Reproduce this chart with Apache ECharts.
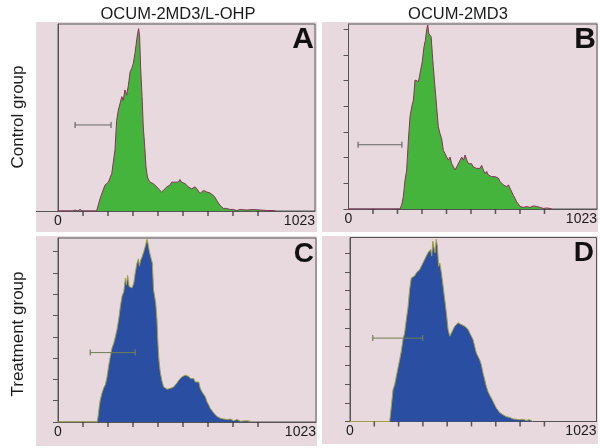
<!DOCTYPE html>
<html>
<head>
<meta charset="utf-8">
<script src="https://cdn.jsdelivr.net/npm/echarts@6/dist/echarts.min.js"></script>
<style>html,body{margin:0;padding:0;background:#fff}#c{width:600px;height:448px}</style>
</head>
<body>
<div id="c"></div>
<script>
// Column titles, row labels, panel letters
const columnTitles = ['OCUM-2MD3/L-OHP', 'OCUM-2MD3'];
const rowLabels = ['Control group', 'Treatment group'];
const panelLetters = ['A', 'B', 'C', 'D'];
const xTickLabels = ['0', '1023'];
const xTickValues = [102.3, 204.6, 306.9, 409.2, 511.5, 613.8, 716.1, 818.4];
const yTickB = [0, 50, 100, 150, 200, 250, 300, 350];
const yTickC = [0, 50, 100, 150, 200, 250, 300, 350, 400];
const yTickD = [0, 50, 100, 150, 200, 250, 300, 350, 400, 450];

// Histograms: [channel, count]
const histA = [[0,0],[60,0],[70,2],[80,0],[90,3],[100,0],[140,0],[158,0],[172,24],[192,50],[206,56],[220,73],[233,118],[240,176],[247,196],[254,209],[261,222],[267,215],[274,235],[281,225],[288,244],[295,270],[302,277],[308,286],[315,306],[322,332],[326,345],[330,354],[334,338],[338,280],[344,222],[349,163],[355,124],[360,86],[366,66],[371,60],[377,56],[383,56],[390,53],[397,50],[404,47],[411,43],[417,40],[424,37],[431,37],[438,43],[445,47],[452,50],[458,50],[465,56],[472,53],[479,56],[486,53],[492,56],[499,61],[506,56],[513,54],[520,53],[527,50],[533,47],[540,48],[547,43],[554,45],[561,47],[568,43],[574,40],[581,34],[588,37],[595,40],[602,39],[608,37],[615,37],[622,35],[629,34],[636,30],[643,26],[649,21],[656,16],[663,11],[670,8],[677,5],[690,5],[704,3],[718,3],[731,1],[745,3],[772,2],[799,3],[827,2],[854,1],[881,1],[890,0]];
const histB = [[0,0],[215,0],[222,8],[229,24],[236,56],[243,76],[250,134],[257,180],[264,199],[271,212],[278,251],[285,254],[292,248],[296,257],[301,270],[308,286],[315,315],[321,328],[327,351],[331,358],[335,342],[340,345],[345,335],[350,303],[354,277],[361,238],[368,199],[375,160],[382,147],[389,137],[396,114],[403,108],[410,101],[417,95],[424,101],[431,88],[438,85],[445,76],[452,82],[459,85],[466,95],[473,101],[480,95],[487,105],[494,95],[501,88],[507,85],[514,88],[521,82],[528,85],[535,79],[542,82],[549,79],[556,85],[563,76],[570,69],[577,73],[584,66],[591,69],[598,63],[605,66],[612,63],[619,60],[626,60],[633,53],[640,53],[647,47],[654,50],[661,43],[668,47],[675,40],[681,37],[688,27],[695,21],[702,14],[709,10],[716,5],[723,6],[730,3],[744,5],[758,3],[772,6],[786,5],[800,3],[814,1],[828,2],[842,1],[849,0]];
const histC = [[0,0],[160,0],[164,13],[169,37],[173,52],[180,68],[187,80],[194,88],[201,107],[207,131],[214,154],[221,174],[228,185],[235,201],[241,216],[248,240],[255,271],[262,295],[269,306],[276,338],[280,322],[285,344],[291,318],[296,322],[303,315],[310,326],[316,350],[323,373],[329,383],[333,366],[337,378],[344,388],[351,400],[357,412],[364,429],[368,420],[374,400],[378,404],[382,397],[386,373],[391,311],[396,314],[400,279],[405,240],[409,185],[413,146],[419,115],[426,95],[432,83],[439,79],[446,77],[453,75],[460,79],[467,79],[473,82],[480,86],[487,92],[494,98],[501,102],[507,106],[514,106],[521,110],[528,106],[535,107],[542,102],[548,98],[555,102],[562,94],[569,90],[576,94],[582,79],[589,71],[596,67],[603,59],[610,47],[617,40],[623,32],[630,27],[637,21],[644,17],[651,13],[664,9],[678,7],[692,6],[705,7],[719,3],[732,6],[746,2],[753,0],[773,3],[787,2],[794,0]];
const histD = [[0,0],[167,0],[174,40],[181,85],[188,98],[195,121],[202,143],[209,165],[216,188],[223,219],[230,237],[237,272],[244,304],[251,353],[258,384],[265,389],[272,389],[279,397],[286,402],[293,406],[300,415],[307,424],[314,433],[321,438],[328,451],[335,447],[340,460],[344,442],[349,482],[354,464],[358,451],[363,487],[368,469],[373,415],[378,424],[385,397],[392,362],[399,326],[406,290],[413,246],[420,228],[427,237],[434,246],[441,255],[448,259],[455,264],[462,268],[469,259],[476,264],[483,255],[490,259],[497,246],[504,242],[511,228],[518,219],[525,201],[532,183],[539,174],[546,165],[553,152],[560,130],[567,112],[574,94],[581,80],[588,71],[595,63],[602,54],[609,45],[616,36],[623,30],[630,24],[644,18],[658,13],[672,11],[686,7],[700,6],[714,5],[728,6],[742,3],[756,5],[770,0]];

// Gate markers: [start channel, end channel, count level]
const gateA = [70, 217, 167];
const gateB = [40, 223, 125];
const gateC = [132, 316, 163];
const gateD = [96, 306, 223];

// Axis extents
const xMax = [1051.6, 1037.7, 1055.7, 1037.8];
const yMax = [363, 360, 432, 492];

const FONT = '"Liberation Sans", Arial, Helvetica, sans-serif';
const axisColor = '#555';
const panelBg = '#e8d9de';

const hists = [histA, histB, histC, histD];
const gates = [gateA, gateB, gateC, gateD];
const yTicks = [[0], yTickB, yTickC, yTickD];
const grids = [
  {left: 58, top: 24, width: 257, height: 187},
  {left: 348.5, top: 24, width: 248.5, height: 185},
  {left: 58, top: 238, width: 258, height: 184},
  {left: 350, top: 237.5, width: 246.5, height: 184}
];
const panelRects = [
  [36, 22, 281, 210],
  [322, 22, 276, 210],
  [36, 236, 281, 210],
  [322, 236, 276, 208]
];
const fills = ['#44b43c', '#44b43c', '#2a4fa2', '#2a4fa2'];
const strokes = ['#8c2f5c', '#8c2f5c', '#a3a043', '#a3a043'];
const gateColors = ['#666666', '#666666', '#6f7f55', '#6f7f55'];

const option = {
  backgroundColor: '#ffffff',
  animation: false,
  grid: grids.map(g => Object.assign({show: true, borderColor: axisColor, borderWidth: 1, backgroundColor: 'transparent', containLabel: false}, g)),
  xAxis: grids.map((g, i) => ({
    type: 'value', gridIndex: i, min: 0, max: xMax[i],
    axisLine: {show: true, lineStyle: {color: axisColor, width: 1}},
    axisTick: {show: false},
    axisLabel: {show: true, customValues: [0, xMax[i]], margin: 3, fontSize: 14, fontFamily: FONT, color: '#1a1a1a',
      alignMaxLabel: 'right',
      formatter: v => v === 0 ? xTickLabels[0] : xTickLabels[1]},
    splitLine: {show: false}
  })),
  yAxis: grids.map((g, i) => ({
    type: 'value', gridIndex: i, min: 0, max: yMax[i], interval: 50,
    axisLine: {show: true, lineStyle: {color: axisColor, width: 1}},
    axisTick: {show: true, customValues: yTicks[i], length: i === 0 ? 22 : 5, lineStyle: {color: axisColor}},
    axisLabel: {show: false},
    splitLine: {show: false}
  })),
  series: [].concat(
    hists.map((h, i) => ({
      type: 'line', xAxisIndex: i, yAxisIndex: i, data: h, showSymbol: false, smooth: false,
      lineStyle: {color: strokes[i], width: 1},
      areaStyle: {color: fills[i], opacity: 1},
      z: 2
    })),
    gates.map((g, i) => ({
      type: 'line', xAxisIndex: i, yAxisIndex: i,
      data: [[g[0], g[2]], [g[1], g[2]]],
      symbol: 'rect', symbolSize: [1.2, 6], showSymbol: true,
      itemStyle: {color: gateColors[i]},
      lineStyle: {color: gateColors[i], width: 1},
      z: 5
    })),
    // x-axis tick marks below each axis line
    grids.map((g, i) => ({
      type: 'scatter', xAxisIndex: i, yAxisIndex: i, silent: true, clip: false,
      data: xTickValues.map(v => [v, 0]),
      symbol: 'rect', symbolSize: [1.5, 5], symbolOffset: [0, 2.5],
      itemStyle: {color: '#333'},
      z: 6
    }))
  ),
  graphic: [].concat(
    panelRects.map(r => ({type: 'rect', z: -10, shape: {x: r[0], y: r[1], width: r[2], height: r[3]}, style: {fill: panelBg}})),
    [
      {type: 'text', x: 178, y: 14.5, style: {text: columnTitles[0], font: '16.5px ' + FONT, fill: '#1a1a1a', textAlign: 'center', textVerticalAlign: 'middle'}},
      {type: 'text', x: 458, y: 14.5, style: {text: columnTitles[1], font: '16.5px ' + FONT, fill: '#1a1a1a', textAlign: 'center', textVerticalAlign: 'middle'}},
      {type: 'text', x: 18.5, y: 117, rotation: Math.PI / 2, style: {text: rowLabels[0], font: '17px ' + FONT, fill: '#1a1a1a', textAlign: 'center', textVerticalAlign: 'middle'}},
      {type: 'text', x: 18.5, y: 334, rotation: Math.PI / 2, style: {text: rowLabels[1], font: '17px ' + FONT, fill: '#1a1a1a', textAlign: 'center', textVerticalAlign: 'middle'}},
      {type: 'text', x: 314, y: 39.5, style: {text: panelLetters[0], font: 'bold 30px ' + FONT, fill: '#111', textAlign: 'right', textVerticalAlign: 'middle'}},
      {type: 'text', x: 596, y: 40, style: {text: panelLetters[1], font: 'bold 30px ' + FONT, fill: '#111', textAlign: 'right', textVerticalAlign: 'middle'}},
      {type: 'text', x: 314, y: 254, style: {text: panelLetters[2], font: 'bold 28px ' + FONT, fill: '#111', textAlign: 'right', textVerticalAlign: 'middle'}},
      {type: 'text', x: 594, y: 253, style: {text: panelLetters[3], font: 'bold 28px ' + FONT, fill: '#111', textAlign: 'right', textVerticalAlign: 'middle'}}
    ]
  )
};

const chart = echarts.init(document.getElementById('c'), null, {renderer: 'canvas'});
chart.setOption(option);
</script>
</body>
</html>
